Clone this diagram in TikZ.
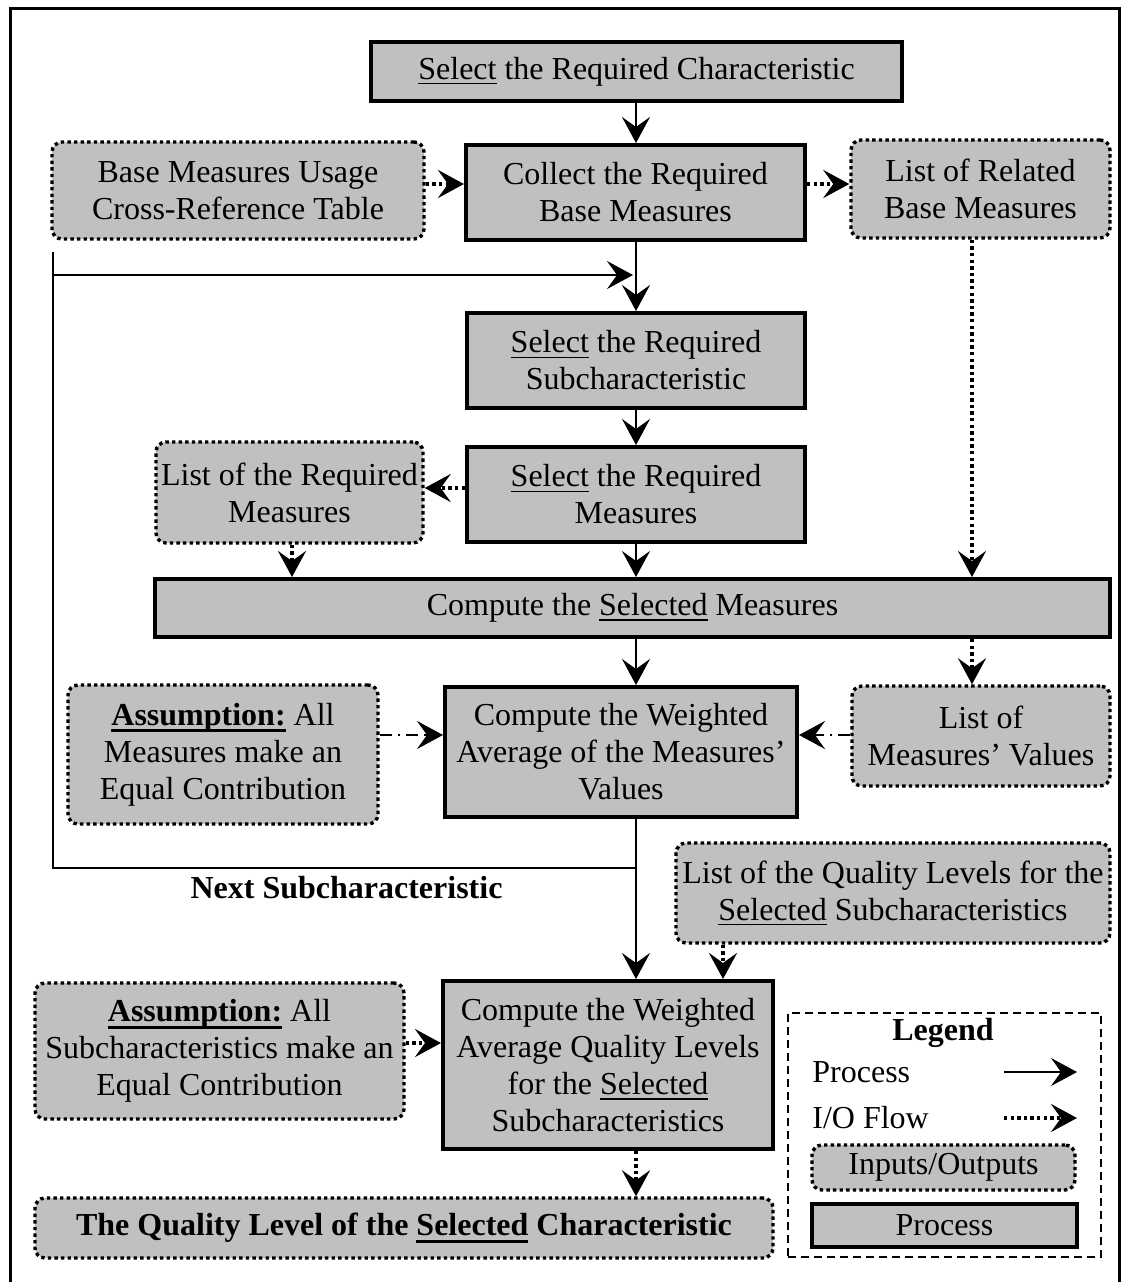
\documentclass[tikz,border=0pt]{standalone}
\usepackage{fontspec}
\setmainfont{Liberation Serif}
\usetikzlibrary{arrows.meta}
\definecolor{boxgray}{RGB}{192,192,192}
% underlined words: thin rule for regular text, heavier rule for bold text
\newcommand\uln[1]{\setbox0\hbox{#1}\rlap{\rule[-2.6pt]{\wd0}{0.8pt}}\box0\relax}
\newcommand\ulb[1]{\setbox0\hbox{#1}\rlap{\rule[-3.4pt]{\wd0}{1.5pt}}\box0\relax}
\tikzset{
  proc/.style={draw, line width=2pt, fill=boxgray, inner sep=0pt, align=center},
  io/.style={draw, line width=1.7pt, dash pattern=on 1.7pt off 1.6pt,
             rounded corners=5pt, fill=boxgray, inner sep=0pt, align=center},
  tip/.style={-{Stealth[length=13pt,width=14pt,inset=5pt]}},
  flow/.style={line width=1.1pt, tip},
  ioflow/.style={line width=1.7pt, dash pattern=on 1.7pt off 1.6pt, tip},
  ddflow/.style={line width=1.1pt, dash pattern=on 6pt off 3pt on 1.2pt off 3pt, tip},
  plain/.style={line width=1.1pt},
}
\begin{document}
\begin{tikzpicture}[x=0.5pt,y=-0.5pt,font=\fontsize{16}{18.5}\selectfont]
\useasboundingbox (0,0) rectangle (1125,1282);
\clip (0,0) rectangle (1125,1282);

% outer frame (open at the bottom)
\draw[line width=1.5pt] (10,1300) -- (10,8) -- (1119,8) -- (1119,1300);

% columns and rows used by the connectors
\coordinate (mainx) at (636,0);
\coordinate (lcol) at (292,0);
\coordinate (rcol) at (972,0);
\coordinate (qcol) at (723,0);
\coordinate (row2) at (0,184);
\coordinate (row5) at (0,488);
\coordinate (row9) at (0,735);
\coordinate (row13) at (0,1043);

% process boxes and inputs/outputs
\node[proc, minimum width=265.5pt, minimum height=29.5pt] (selchar) at (636.5,71.5)
  {\uln{Select} the Required Characteristic};
\node[proc, minimum width=169.5pt, minimum height=47.5pt] (collect) at (635.5,192.5)
  {Collect the Required\\Base Measures};
\node[io, minimum width=186pt, minimum height=48.5pt] (bmu) at (238,190.5)
  {Base Measures Usage\\Cross-Reference Table};
\node[io, minimum width=129.5pt, minimum height=49pt] (lrbm) at (980.5,189)
  {List of Related\\Base Measures};
\node[proc, minimum width=169pt, minimum height=47.5pt] (selsub) at (636,360.5)
  {\uln{Select} the Required\\Subcharacteristic};
\node[proc, minimum width=169pt, minimum height=47.5pt] (selmeas) at (636,494.5)
  {\uln{Select} the Required\\Measures};
\node[io, minimum width=133.5pt, minimum height=50.5pt] (lrm) at (289.5,492.5)
  {List of the Required\\Measures};
\node[proc, minimum width=477.5pt, minimum height=29pt] (compsel) at (632.5,608)
  {Compute the \uln{Selected} Measures};
\node[proc, minimum width=176pt, minimum height=65pt] (cwa) at (621,752)
  {Compute the Weighted\\Average of the Measures’\\Values};
\node[io, minimum width=129pt, minimum height=50pt] (lmv) at (981,736)
  {List of\\Measures’ Values};
\node[io, minimum width=155pt, minimum height=69.5pt] (assa) at (223,754.5)
  {\ulb{\textbf{Assumption:}} All\\Measures make an\\Equal Contribution};
\node[io, minimum width=217pt, minimum height=50pt] (lql) at (893,893)
  {List of the Quality Levels for the\\\uln{Selected} Subcharacteristics};
\node[proc, minimum width=165pt, minimum height=84pt] (cwb) at (608,1065)
  {Compute the Weighted\\Average Quality Levels\\for the \uln{Selected}\\Subcharacteristics};
\node[io, minimum width=184.5pt, minimum height=68pt] (assb) at (219.5,1051)
  {\ulb{\textbf{Assumption:}} All\\Subcharacteristics make an\\Equal Contribution};
\node[io, minimum width=369pt, minimum height=30pt] (final) at (404,1228)
  {\textbf{The Quality Level of the \ulb{Selected} Characteristic}};

\node[font=\fontsize{16}{18.5}\selectfont\bfseries] (nextlbl) at (346.5,888) {Next Subcharacteristic};

% main process chain
\draw[flow] (selchar.south -| mainx) -- (collect.north -| mainx);
\draw[flow] (collect.south -| mainx) -- (selsub.north -| mainx);
\draw[flow] (selsub.south -| mainx) -- (selmeas.north -| mainx);
\draw[flow] (selmeas.south -| mainx) -- (compsel.north -| mainx);
\draw[flow] (compsel.south -| mainx) -- (cwa.north -| mainx);
\draw[flow] (cwa.south -| mainx) -- (cwb.north -| mainx);

% loop back for the next subcharacteristic
\coordinate (loopcorner) at (53,868);
\coordinate (loopstub) at (53,252);
\coordinate (looptop) at (53,275);
\coordinate (loopend) at (633,275);
\draw[plain] (mainx |- loopcorner) -- (loopcorner) -- (loopstub);
\draw[flow] (looptop) -- (loopend);

% input / output flows
\draw[ioflow] (bmu.east |- row2) -- (collect.west |- row2);
\draw[ioflow] (collect.east |- row2) -- (lrbm.west |- row2);
\draw[ioflow] (selmeas.west |- row5) -- (lrm.east |- row5);
\draw[ioflow] (lrm.south -| lcol) -- (compsel.north -| lcol);
\draw[ioflow] (lrbm.south -| rcol) -- (compsel.north -| rcol);
\draw[ioflow] (compsel.south -| rcol) -- (lmv.north -| rcol);
\draw[ddflow] (assa.east |- row9) -- (cwa.west |- row9);
\draw[ddflow] (lmv.west |- row9) -- (cwa.east |- row9);
\draw[ioflow] (lql.south -| qcol) -- (cwb.north -| qcol);
\draw[ioflow] (assb.east |- row13) -- (cwb.west |- row13);
\draw[ioflow] (cwb.south -| mainx) -- (final.north -| mainx);

% legend
\node[draw, line width=0.6pt, dash pattern=on 4pt off 2.5pt,
      minimum width=156.5pt, minimum height=122pt, inner sep=0pt] (legend) at (944.5,1135) {};
\node[font=\fontsize{16}{18.5}\selectfont\bfseries] (legtitle) at (943,1033) {Legend};
\node[anchor=west, inner sep=0pt] (legproc) at (812,1072) {Process};
\node[anchor=west, inner sep=0pt] (legio) at (812,1118) {I/O Flow};
\coordinate (lpa) at (1004,1072);
\coordinate (lpb) at (1077,1072);
\coordinate (lia) at (1004,1118);
\coordinate (lib) at (1077,1118);
\draw[flow] (lpa) -- (lpb);
\draw[ioflow] (lia) -- (lib);
\node[io, minimum width=131.5pt, minimum height=22.5pt] (legiobox) at (943.5,1167.5) {Inputs/Outputs};
\node[proc, minimum width=132.5pt, minimum height=21.5pt] (legprocbox) at (944.5,1225.5) {Process};
\end{tikzpicture}
\end{document}
